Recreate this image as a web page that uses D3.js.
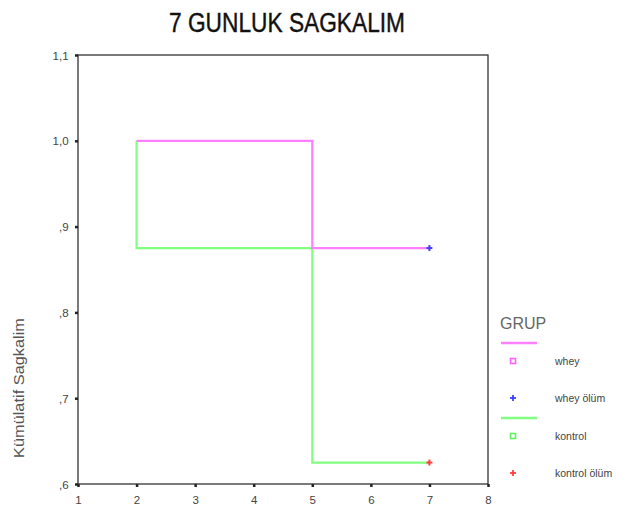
<!DOCTYPE html>
<html>
<head>
<meta charset="utf-8">
<script src="https://cdn.jsdelivr.net/npm/d3@7"></script>
<style>
  html, body { margin: 0; padding: 0; background: #fff; }
  svg { display: block; }
  text { font-family: "Liberation Sans", Arial, sans-serif; }
</style>
</head>
<body>
<svg id="chart" width="637" height="510"></svg>
<script>
// Survival steps per group: [time, cumulative survival]
const wheySteps = [[2, 1.0], [5, 1.0], [5, 0.875], [7, 0.875]];
const kontrolSteps = [[2, 1.0], [2, 0.875], [5, 0.875], [5, 0.625], [7, 0.625]];
// Censored observations (ölüm markers)
const wheyCensored = [[7, 0.875]];
const kontrolCensored = [[7, 0.625]];

const xTicks = [1, 2, 3, 4, 5, 6, 7, 8];
const yTicks = [0.6, 0.7, 0.8, 0.9, 1.0, 1.1];
const yTickLabels = [",6", ",7", ",8", ",9", "1,0", "1,1"];

const legendItems = [
  { type: "line", color: "#ff80ff" },
  { type: "square", color: "#ff60ff", label: "whey" },
  { type: "plus", color: "#4040ff", label: "whey ölüm" },
  { type: "line", color: "#80ff80" },
  { type: "square", color: "#60f060", label: "kontrol" },
  { type: "plus", color: "#ff4040", label: "kontrol ölüm" }
];

const svg = d3.select("#chart");
const x = d3.scaleLinear().domain([1, 8]).range([78, 488]);
const y = d3.scaleLinear().domain([0.6, 1.1]).range([484, 55]);

// Title
svg.append("text")
  .attr("x", 287).attr("y", 32)
  .attr("text-anchor", "middle")
  .attr("font-size", 27)
  .attr("textLength", 236).attr("lengthAdjust", "spacingAndGlyphs")
  .attr("fill", "#111")
  .attr("stroke", "#111").attr("stroke-width", 0.4)
  .text("7 GUNLUK SAGKALIM");

// Plot frame
svg.append("rect")
  .attr("x", x(1)).attr("y", y(1.1))
  .attr("width", x(8) - x(1)).attr("height", y(0.6) - y(1.1))
  .attr("fill", "none").attr("stroke", "#333").attr("stroke-width", 1.3);

// Axes
const xAxis = d3.axisBottom(x).tickValues(xTicks).tickSize(3).tickFormat(d3.format("d"));
const yAxis = d3.axisLeft(y).tickValues(yTicks).tickSize(3)
  .tickFormat((d, i) => yTickLabels[i]);

const gx = svg.append("g").attr("transform", `translate(0,${y(0.6)})`).call(xAxis);
const gy = svg.append("g").attr("transform", `translate(${x(1)},0)`).call(yAxis);
[gx, gy].forEach(g => {
  g.select(".domain").remove();
  g.selectAll(".tick line").attr("stroke", "#222").attr("stroke-width", 2.5);
  g.selectAll(".tick text").attr("fill", "#444").attr("font-size", 11.5)
    .attr("font-family", "Liberation Sans, Arial, sans-serif");
});
gx.selectAll(".tick text").attr("dy", "1.25em");
gy.selectAll(".tick text").attr("dx", "-0.3em").attr("dy", "0.35em");

// Y axis title
svg.append("text")
  .attr("transform", "translate(24,388) rotate(-90)")
  .attr("text-anchor", "middle")
  .attr("font-size", 14)
  .attr("textLength", 140).attr("lengthAdjust", "spacingAndGlyphs")
  .attr("fill", "#555")
  .text("Kümülatif Sagkalim");

// Survival step lines
const line = d3.line().x(d => x(d[0])).y(d => y(d[1]));
svg.append("path").datum(kontrolSteps).attr("d", line)
  .attr("fill", "none").attr("stroke", "#80ff80").attr("stroke-width", 2.2);
svg.append("path").datum(wheySteps).attr("d", line)
  .attr("fill", "none").attr("stroke", "#ff80ff").attr("stroke-width", 2.2);

// Censor markers
function plus(sel, color) {
  sel.each(function (d) {
    const g = d3.select(this);
    const cx = x(d[0]), cy = y(d[1]);
    g.append("line").attr("x1", cx - 3).attr("x2", cx + 3).attr("y1", cy).attr("y2", cy)
      .attr("stroke", color).attr("stroke-width", 2);
    g.append("line").attr("x1", cx).attr("x2", cx).attr("y1", cy - 3).attr("y2", cy + 3)
      .attr("stroke", color).attr("stroke-width", 2);
  });
}
svg.append("g").selectAll("g").data(wheyCensored).join("g").call(plus, "#4040ff");
svg.append("g").selectAll("g").data(kontrolCensored).join("g").call(plus, "#ff4040");

// Legend
const lg = svg.append("g");
lg.append("text").attr("x", 500).attr("y", 329)
  .attr("font-size", 16).attr("fill", "#666").text("GRUP");
const rowY = [343, 361, 398, 418, 436, 473];
legendItems.forEach((it, i) => {
  const ry = rowY[i];
  if (it.type === "line") {
    lg.append("line").attr("x1", 501).attr("x2", 537).attr("y1", ry).attr("y2", ry)
      .attr("stroke", it.color).attr("stroke-width", 2.5);
  } else if (it.type === "square") {
    lg.append("rect").attr("x", 510.5).attr("y", ry - 2.5).attr("width", 5).attr("height", 5)
      .attr("fill", "none").attr("stroke", it.color).attr("stroke-width", 1.6);
  } else {
    lg.append("line").attr("x1", 510).attr("x2", 516).attr("y1", ry).attr("y2", ry)
      .attr("stroke", it.color).attr("stroke-width", 1.8);
    lg.append("line").attr("x1", 513).attr("x2", 513).attr("y1", ry - 3).attr("y2", ry + 3)
      .attr("stroke", it.color).attr("stroke-width", 1.8);
  }
  if (it.label) {
    lg.append("text").attr("x", 555).attr("y", ry + 4)
      .attr("font-size", 10.5).attr("fill", "#444").text(it.label);
  }
});
</script>
</body>
</html>
